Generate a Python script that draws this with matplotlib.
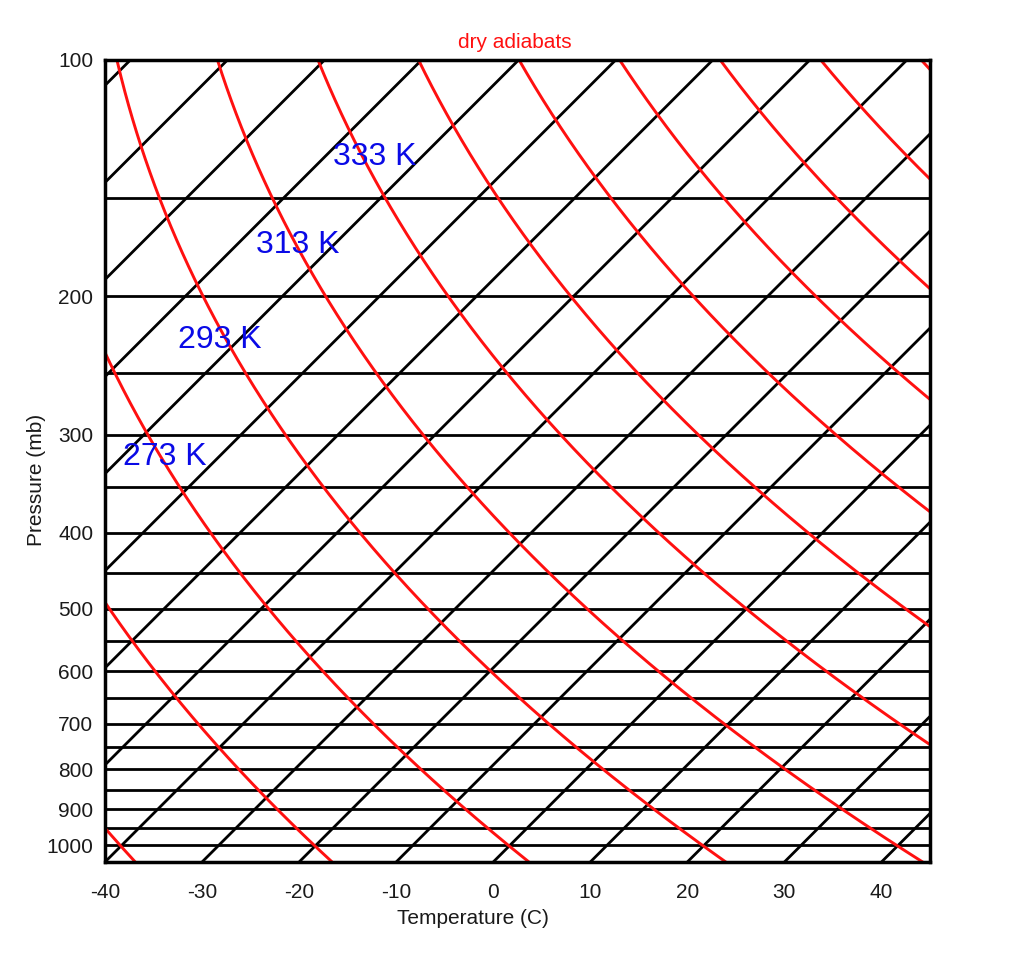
import numpy as np
import matplotlib
matplotlib.use("Agg")
import matplotlib.pyplot as plt

plt.rcParams["font.family"] = ["Liberation Sans", "DejaVu Sans"]

# chart values
isotherms = list(range(-130, 50, 10))          # deg C, skewed black lines
isobars = list(range(100, 1050, 50))           # hPa, horizontal black lines
adiabats = list(range(233, 474, 20))           # potential temperature, K
temp_ticks = [-40, -30, -20, -10, 0, 10, 20, 30, 40]
pres_ticks = [100, 200, 300, 400, 500, 600, 700, 800, 900, 1000]
theta_labels = ["273 K", "293 K", "313 K", "333 K"]
label_x = [-33.8, -28.2, -20.1, -12.2]
label_p = [328.1, 232.6, 176.1, 136.0]

p_bot, p_top = 1050.0, 100.0
skew = 80.9  # deg C per decade of pressure, gives 45 degree isotherms


def skewed(T, p):
    return T + skew * np.log10(p_bot / p)


fig = plt.figure(figsize=(10.24, 9.67), dpi=100)
ax = fig.add_axes([105 / 1024, 1 - 862 / 967, 825 / 1024, 802 / 967])
ax.set_yscale("log")

p = np.geomspace(p_top, p_bot, 300)

for pb in isobars:
    ax.axhline(pb, color="black", lw=2.0, zorder=2)

for T in isotherms:
    ax.plot(skewed(T, p), p, color="black", lw=2.0, zorder=2)

for th in adiabats:
    T = th * (p / 1000.0) ** 0.2857 - 273.15
    ax.plot(skewed(T, p), p, color="#ff1010", lw=2.1, zorder=3)

for lab, x, pp in zip(theta_labels, label_x, label_p):
    ax.text(x, pp, lab, color="#0a0ae6", fontsize=23, ha="center", va="baseline", zorder=5)

ax.set_xlim(-40, 45)
ax.set_ylim(p_bot, p_top)
ax.set_xticks(temp_ticks)
ax.set_xticklabels([str(t) for t in temp_ticks])
ax.set_yticks(pres_ticks)
ax.set_yticklabels([str(v) for v in pres_ticks])
ax.yaxis.set_minor_locator(matplotlib.ticker.NullLocator())
ax.tick_params(axis="both", length=0, labelsize=15, labelcolor="#1a1a1a")
ax.tick_params(axis="x", pad=15)
ax.tick_params(axis="y", pad=8.5)
for s in ax.spines.values():
    s.set_linewidth(2.5)
    s.set_zorder(6)

fig.text(515 / 1024, 1 - 42 / 967, "dry adiabats", color="#ff1010", fontsize=15, ha="center", va="center")
fig.text(473 / 1024, 1 - 918 / 967, "Temperature (C)", fontsize=15, ha="center", va="center", color="#1a1a1a")
fig.text(37 / 1024, 1 - 480 / 967, "Pressure (mb)", fontsize=15, ha="center", va="center", rotation=90,
         color="#1a1a1a")

fig.savefig("out.png", dpi=100)
